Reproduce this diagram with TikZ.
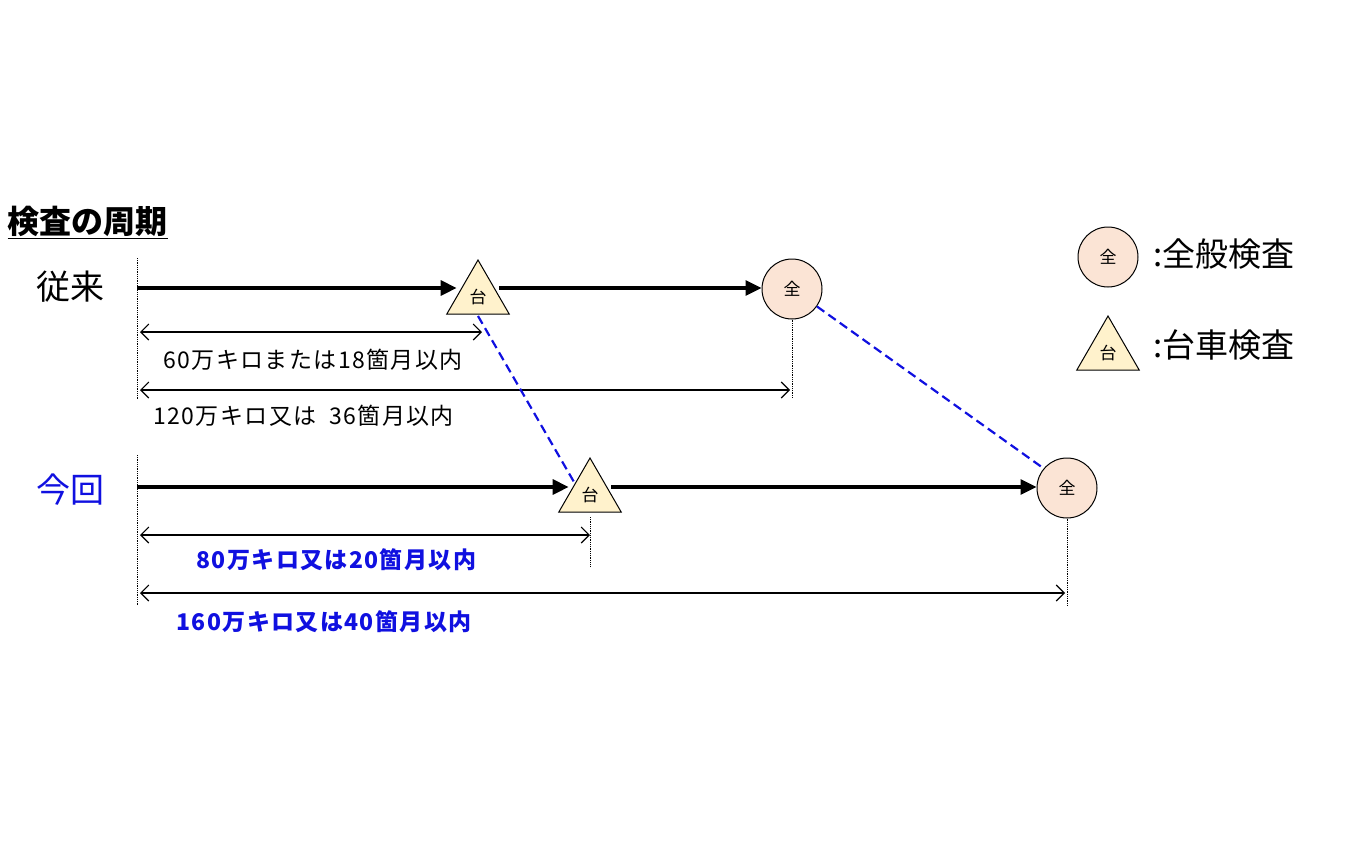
\documentclass[tikz,border=0pt]{standalone}
\usepackage{fontspec}
\setmainfont{Noto Sans CJK JP}
\newfontfamily\wide[LetterSpace=6]{Noto Sans CJK JP}
\usetikzlibrary{shapes.geometric,arrows.meta}
\definecolor{cfill}{HTML}{FBE4D5}
\definecolor{tfill}{HTML}{FFF2CC}
\definecolor{myblue}{HTML}{1010E0}
\tikzset{
 zen/.style={circle,draw,line width=1pt,fill=cfill,minimum size=60pt,inner sep=0pt,font=\fontsize{17}{17}\selectfont},
 dai/.style={regular polygon,regular polygon sides=3,draw,line width=1pt,fill=tfill,minimum size=72pt,inner sep=0pt,font=\fontsize{17}{17}\selectfont,text depth=-14pt},
 main/.style={line width=3.2pt,-{Triangle[length=16pt,width=15pt]}},
 dim/.style={line width=1.1pt,{Straight Barb[length=8pt]}-{Straight Barb[length=8pt]}},
 guide/.style={densely dotted,line width=0.8pt},
 link/.style={dashed,myblue,line width=2.2pt,dash pattern=on 9pt off 5pt},
 lab/.style={font=\wide\fontsize{23}{23}\selectfont,anchor=west},
 blab/.style={font=\wide\fontsize{23}{23}\selectfont\bfseries,text=myblue,anchor=west},
}
\begin{document}
\begin{tikzpicture}[x=1pt,y=-1pt]
\useasboundingbox (0,0) rectangle (1350,844);
\node[font=\fontsize{32}{32}\selectfont\bfseries,anchor=west] (title) at (4,222) {\underline{検査の周期}};
\node[font=\fontsize{34}{34}\selectfont] (jr) at (70,287) {従来};
\node[font=\fontsize{34}{34}\selectfont,text=myblue] (kk) at (70,490) {今回};
\coordinate (s1) at (137,288); \coordinate (s2) at (137,487);
\draw[guide] (137,258) -- (137,400);
\draw[guide] (137,455) -- (137,605);
% row 1
\node[dai] (t1) at (478,296) {台};
\node[zen] (c1) at (792,289) {全};
\draw[main] (s1) -- (t1.west|-s1);
\draw[main] (t1.east|-s1) -- (c1.west|-s1);
\draw[guide] (c1.south) -- (792,398);
\coordinate (d1a) at (140,332); \coordinate (d1b) at (482,332);
\coordinate (d2a) at (140,390); \coordinate (d2b) at (790,390);
\draw[dim] (d1a) -- (d1b);
\draw[dim] (d2a) -- (d2b);
\node[lab] (l1) at (160,360) {60万キロまたは18箇月以内};
\node[lab] (l2) at (150,416) {120万キロ又は\ \ 36箇月以内};
% row 2
\node[dai] (t2) at (590,494) {台};
\node[zen] (c2) at (1067,488) {全};
\draw[main] (s2) -- (t2.west|-s2);
\draw[main] (t2.east|-s2) -- (c2.west|-s2);
\draw[guide] (590,517) -- (590,567);
\draw[guide] (c2.south) -- (1067,606);
\coordinate (d3a) at (140,535); \coordinate (d3b) at (590,535);
\coordinate (d4a) at (140,593); \coordinate (d4b) at (1065,593);
\draw[dim] (d3a) -- (d3b);
\draw[dim] (d4a) -- (d4b);
\node[blab] (l3) at (193,560) {80万キロ又は20箇月以内};
\node[blab] (l4) at (173,622) {160万キロ又は40箇月以内};
% links
\coordinate (k1) at (478,316); \coordinate (k2) at (574,482);
\draw[link] (k1) -- (k2);
\draw[link] (c1.-35) -- (c2.140);
% legend
\node[zen] (lc) at (1108,257) {全};
\node[dai] (lt) at (1108,352) {台};
\node[font=\fontsize{33}{33}\selectfont,anchor=west] (lct) at (1150,254) {:全般検査};
\node[font=\fontsize{33}{33}\selectfont,anchor=west] (ltt) at (1150,345) {:台車検査};
\end{tikzpicture}
\end{document}
